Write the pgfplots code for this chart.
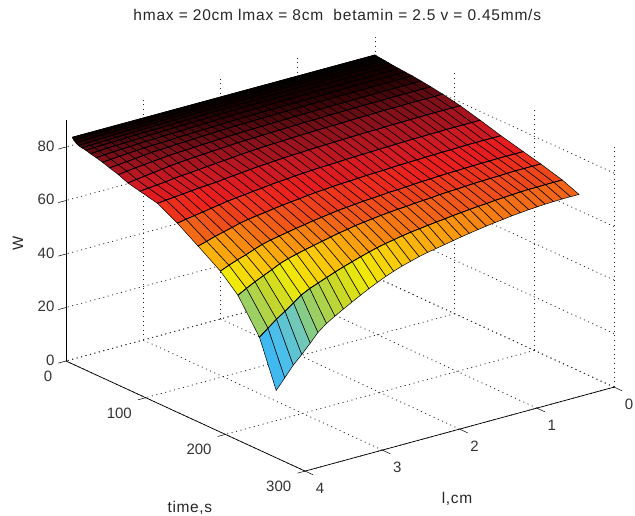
\documentclass[border=0pt]{standalone}
\usepackage{pgfplots}
\usepackage{pgfplotstable}
\pgfplotsset{compat=1.18}
\usepackage{fontspec}
\setmainfont{Liberation Sans}
\newfontface\spaced[LetterSpace=5]{Liberation Sans}
\newfontface\spacedl[LetterSpace=4]{Liberation Sans}
\pgfplotstableread{
l t w
0 0 83
.11 0 83
.22 0 83
.33 0 83
.44 0 83
.54 0 83
.65 0 83
.76 0 83
.87 0 83
.98 0 83
1.09 0 83
1.2 0 83
1.31 0 83
1.42 0 83
1.52 0 83
1.63 0 83
1.74 0 83
1.85 0 83
1.96 0 83
2.07 0 83
2.18 0 83
2.29 0 83
2.4 0 83
2.5 0 83
2.61 0 83
2.72 0 83
2.83 0 83
2.94 0 83
3.05 0 83
3.16 0 83
3.27 0 83
3.38 0 83
3.48 0 83
3.59 0 83
3.7 0 83
3.81 0 83
3.92 0 83
0 2 82.9
.11 2 82.9
.22 2 82.9
.33 2 82.9
.44 2 82.9
.54 2 82.9
.65 2 82.9
.76 2 82.9
.87 2 82.9
.98 2 82.9
1.09 2 82.9
1.2 2 82.9
1.31 2 82.8
1.42 2 82.8
1.52 2 82.8
1.63 2 82.8
1.74 2 82.8
1.85 2 82.8
1.96 2 82.8
2.07 2 82.8
2.18 2 82.7
2.29 2 82.7
2.4 2 82.7
2.5 2 82.7
2.61 2 82.6
2.72 2 82.6
2.83 2 82.6
2.94 2 82.5
3.05 2 82.5
3.16 2 82.5
3.27 2 82.5
3.38 2 82.5
3.48 2 82.5
3.59 2 82.4
3.7 2 82.4
3.81 2 82.3
3.92 2 82.2
0 5 82.8
.11 5 82.8
.22 5 82.8
.33 5 82.8
.44 5 82.8
.54 5 82.8
.65 5 82.8
.76 5 82.8
.87 5 82.8
.98 5 82.7
1.09 5 82.7
1.2 5 82.7
1.31 5 82.7
1.42 5 82.7
1.52 5 82.6
1.63 5 82.6
1.74 5 82.6
1.85 5 82.6
1.96 5 82.5
2.07 5 82.5
2.18 5 82.5
2.29 5 82.4
2.4 5 82.4
2.5 5 82.3
2.61 5 82.3
2.72 5 82.2
2.83 5 82.2
2.94 5 82.1
3.05 5 82.1
3.16 5 82.1
3.27 5 82.1
3.38 5 82
3.48 5 82
3.59 5 81.9
3.7 5 81.8
3.81 5 81.7
3.92 5 81.5
0 8 82.7
.11 8 82.7
.22 8 82.7
.33 8 82.7
.44 8 82.7
.54 8 82.7
.65 8 82.7
.76 8 82.6
.87 8 82.6
.98 8 82.6
1.09 8 82.6
1.2 8 82.6
1.31 8 82.5
1.42 8 82.5
1.52 8 82.5
1.63 8 82.5
1.74 8 82.4
1.85 8 82.4
1.96 8 82.3
2.07 8 82.3
2.18 8 82.3
2.29 8 82.2
2.4 8 82.1
2.5 8 82.1
2.61 8 82
2.72 8 81.9
2.83 8 81.8
2.94 8 81.8
3.05 8 81.7
3.16 8 81.7
3.27 8 81.6
3.38 8 81.5
3.48 8 81.4
3.59 8 81.3
3.7 8 81.2
3.81 8 81.1
3.92 8 81
0 12 82.6
.11 12 82.6
.22 12 82.6
.33 12 82.6
.44 12 82.6
.54 12 82.6
.65 12 82.6
.76 12 82.5
.87 12 82.5
.98 12 82.5
1.09 12 82.5
1.2 12 82.4
1.31 12 82.4
1.42 12 82.4
1.52 12 82.3
1.63 12 82.3
1.74 12 82.3
1.85 12 82.2
1.96 12 82.2
2.07 12 82.1
2.18 12 82.1
2.29 12 82
2.4 12 82
2.5 12 81.9
2.61 12 81.8
2.72 12 81.7
2.83 12 81.6
2.94 12 81.5
3.05 12 81.4
3.16 12 81.4
3.27 12 81.3
3.38 12 81.2
3.48 12 81.1
3.59 12 81
3.7 12 80.9
3.81 12 80.8
3.92 12 80.7
0 17 82.4
.11 17 82.4
.22 17 82.4
.33 17 82.4
.44 17 82.4
.54 17 82.4
.65 17 82.4
.76 17 82.3
.87 17 82.3
.98 17 82.3
1.09 17 82.3
1.2 17 82.2
1.31 17 82.2
1.42 17 82.2
1.52 17 82.1
1.63 17 82.1
1.74 17 82.1
1.85 17 82
1.96 17 82
2.07 17 81.9
2.18 17 81.9
2.29 17 81.8
2.4 17 81.7
2.5 17 81.6
2.61 17 81.6
2.72 17 81.5
2.83 17 81.4
2.94 17 81.3
3.05 17 81.2
3.16 17 81.2
3.27 17 81.1
3.38 17 81
3.48 17 80.9
3.59 17 80.8
3.7 17 80.7
3.81 17 80.6
3.92 17 80.5
0 23 82.2
.11 23 82.2
.22 23 82.2
.33 23 82.2
.44 23 82.2
.54 23 82.2
.65 23 82.2
.76 23 82.1
.87 23 82.1
.98 23 82.1
1.09 23 82.1
1.2 23 82
1.31 23 82
1.42 23 82
1.52 23 81.9
1.63 23 81.9
1.74 23 81.9
1.85 23 81.8
1.96 23 81.8
2.07 23 81.7
2.18 23 81.7
2.29 23 81.6
2.4 23 81.5
2.5 23 81.4
2.61 23 81.4
2.72 23 81.3
2.83 23 81.2
2.94 23 81.1
3.05 23 81
3.16 23 80.9
3.27 23 80.8
3.38 23 80.7
3.48 23 80.6
3.59 23 80.5
3.7 23 80.4
3.81 23 80.2
3.92 23 80
0 30 82
.11 30 82
.22 30 82
.33 30 82
.44 30 82
.54 30 82
.65 30 82
.76 30 81.9
.87 30 81.9
.98 30 81.9
1.09 30 81.9
1.2 30 81.8
1.31 30 81.8
1.42 30 81.8
1.52 30 81.7
1.63 30 81.7
1.74 30 81.6
1.85 30 81.6
1.96 30 81.6
2.07 30 81.5
2.18 30 81.4
2.29 30 81.4
2.4 30 81.3
2.5 30 81.2
2.61 30 81.1
2.72 30 81
2.83 30 80.9
2.94 30 80.8
3.05 30 80.7
3.16 30 80.6
3.27 30 80.5
3.38 30 80.4
3.48 30 80.2
3.59 30 80.1
3.7 30 79.9
3.81 30 79.7
3.92 30 79.5
0 38 81.8
.11 38 81.8
.22 38 81.8
.33 38 81.8
.44 38 81.8
.54 38 81.8
.65 38 81.8
.76 38 81.7
.87 38 81.7
.98 38 81.7
1.09 38 81.6
1.2 38 81.6
1.31 38 81.6
1.42 38 81.5
1.52 38 81.5
1.63 38 81.5
1.74 38 81.4
1.85 38 81.4
1.96 38 81.3
2.07 38 81.3
2.18 38 81.2
2.29 38 81.1
2.4 38 81
2.5 38 80.9
2.61 38 80.8
2.72 38 80.7
2.83 38 80.6
2.94 38 80.5
3.05 38 80.3
3.16 38 80.2
3.27 38 80.1
3.38 38 80
3.48 38 79.8
3.59 38 79.6
3.7 38 79.4
3.81 38 79.1
3.92 38 78.9
0 47 81.6
.11 47 81.6
.22 47 81.6
.33 47 81.6
.44 47 81.6
.54 47 81.6
.65 47 81.5
.76 47 81.5
.87 47 81.5
.98 47 81.5
1.09 47 81.4
1.2 47 81.4
1.31 47 81.4
1.42 47 81.3
1.52 47 81.3
1.63 47 81.2
1.74 47 81.2
1.85 47 81.1
1.96 47 81.1
2.07 47 81
2.18 47 80.9
2.29 47 80.9
2.4 47 80.8
2.5 47 80.7
2.61 47 80.5
2.72 47 80.4
2.83 47 80.3
2.94 47 80.1
3.05 47 80
3.16 47 79.8
3.27 47 79.7
3.38 47 79.5
3.48 47 79.2
3.59 47 78.9
3.7 47 78.6
3.81 47 78.3
3.92 47 78
0 58 81.2
.11 58 81.2
.22 58 81.2
.33 58 81.2
.44 58 81.2
.54 58 81.2
.65 58 81.1
.76 58 81.1
.87 58 81.1
.98 58 81
1.09 58 81
1.2 58 81
1.31 58 80.9
1.42 58 80.9
1.52 58 80.8
1.63 58 80.8
1.74 58 80.7
1.85 58 80.6
1.96 58 80.6
2.07 58 80.5
2.18 58 80.4
2.29 58 80.3
2.4 58 80.2
2.5 58 80.1
2.61 58 80
2.72 58 79.8
2.83 58 79.7
2.94 58 79.5
3.05 58 79.3
3.16 58 79.2
3.27 58 79
3.38 58 78.7
3.48 58 78.4
3.59 58 78.1
3.7 58 77.8
3.81 58 77.4
3.92 58 77
0 70 80.7
.11 70 80.7
.22 70 80.7
.33 70 80.7
.44 70 80.7
.54 70 80.7
.65 70 80.6
.76 70 80.6
.87 70 80.6
.98 70 80.5
1.09 70 80.5
1.2 70 80.4
1.31 70 80.4
1.42 70 80.3
1.52 70 80.2
1.63 70 80.2
1.74 70 80.1
1.85 70 80
1.96 70 79.9
2.07 70 79.8
2.18 70 79.7
2.29 70 79.6
2.4 70 79.5
2.5 70 79.4
2.61 70 79.2
2.72 70 79
2.83 70 78.8
2.94 70 78.6
3.05 70 78.4
3.16 70 78.2
3.27 70 77.9
3.38 70 77.6
3.48 70 77.2
3.59 70 76.8
3.7 70 76.4
3.81 70 76
3.92 70 75.5
0 85 80
.11 85 80
.22 85 80
.33 85 80
.44 85 80
.54 85 79.9
.65 85 79.9
.76 85 79.9
.87 85 79.8
.98 85 79.7
1.09 85 79.7
1.2 85 79.6
1.31 85 79.5
1.42 85 79.4
1.52 85 79.4
1.63 85 79.3
1.74 85 79.2
1.85 85 79.1
1.96 85 79
2.07 85 78.8
2.18 85 78.7
2.29 85 78.6
2.4 85 78.4
2.5 85 78.2
2.61 85 78
2.72 85 77.7
2.83 85 77.4
2.94 85 77.2
3.05 85 76.9
3.16 85 76.6
3.27 85 76.3
3.38 85 76.1
3.48 85 75.8
3.59 85 75.4
3.7 85 75.1
3.81 85 74.8
3.92 85 74.5
0 107 78.7
.11 107 78.7
.22 107 78.7
.33 107 78.7
.44 107 78.7
.54 107 78.6
.65 107 78.6
.76 107 78.5
.87 107 78.5
.98 107 78.4
1.09 107 78.3
1.2 107 78.3
1.31 107 78.2
1.42 107 78.1
1.52 107 78
1.63 107 77.9
1.74 107 77.8
1.85 107 77.7
1.96 107 77.6
2.07 107 77.4
2.18 107 77.3
2.29 107 77.1
2.4 107 76.9
2.5 107 76.7
2.61 107 76.5
2.72 107 76.2
2.83 107 75.9
2.94 107 75.6
3.05 107 75.3
3.16 107 74.9
3.27 107 74.7
3.38 107 74.5
3.48 107 74.2
3.59 107 73.9
3.7 107 73.6
3.81 107 73.3
3.92 107 73
0 132 76.7
.11 132 76.7
.22 132 76.7
.33 132 76.7
.44 132 76.7
.54 132 76.6
.65 132 76.6
.76 132 76.5
.87 132 76.5
.98 132 76.4
1.09 132 76.3
1.2 132 76.2
1.31 132 76.1
1.42 132 76
1.52 132 75.9
1.63 132 75.8
1.74 132 75.7
1.85 132 75.5
1.96 132 75.4
2.07 132 75.3
2.18 132 75.1
2.29 132 74.9
2.4 132 74.7
2.5 132 74.4
2.61 132 74.2
2.72 132 73.9
2.83 132 73.5
2.94 132 73.2
3.05 132 72.8
3.16 132 72.5
3.27 132 72.1
3.38 132 71.6
3.48 132 71.1
3.59 132 70.6
3.7 132 70.1
3.81 132 69.6
3.92 132 69
0 158 74.5
.11 158 74.5
.22 158 74.5
.33 158 74.5
.44 158 74.5
.54 158 74.4
.65 158 74.3
.76 158 74.3
.87 158 74.2
.98 158 74.1
1.09 158 74
1.2 158 73.9
1.31 158 73.8
1.42 158 73.7
1.52 158 73.5
1.63 158 73.4
1.74 158 73.3
1.85 158 73.1
1.96 158 72.9
2.07 158 72.8
2.18 158 72.6
2.29 158 72.3
2.4 158 72.1
2.5 158 71.8
2.61 158 71.4
2.72 158 71.1
2.83 158 70.7
2.94 158 70.3
3.05 158 69.8
3.16 158 69.4
3.27 158 68.9
3.38 158 68.3
3.48 158 67.5
3.59 158 66.7
3.7 158 65.9
3.81 158 64.9
3.92 158 64
0 186 72.4
.11 186 72.4
.22 186 72.4
.33 186 72.4
.44 186 72.3
.54 186 72.3
.65 186 72.2
.76 186 72.1
.87 186 72
.98 186 71.9
1.09 186 71.8
1.2 186 71.6
1.31 186 71.5
1.42 186 71.3
1.52 186 71.1
1.63 186 70.9
1.74 186 70.8
1.85 186 70.5
1.96 186 70.3
2.07 186 70.1
2.18 186 69.8
2.29 186 69.5
2.4 186 69.2
2.5 186 68.8
2.61 186 68.3
2.72 186 67.9
2.83 186 67.3
2.94 186 66.8
3.05 186 66.2
3.16 186 65.6
3.27 186 65
3.38 186 64.2
3.48 186 63.2
3.59 186 62
3.7 186 61
3.81 186 59.8
3.92 186 58.5
0 208 70.8
.11 208 70.8
.22 208 70.8
.33 208 70.8
.44 208 70.7
.54 208 70.6
.65 208 70.5
.76 208 70.4
.87 208 70.3
.98 208 70.1
1.09 208 69.9
1.2 208 69.8
1.31 208 69.6
1.42 208 69.3
1.52 208 69.1
1.63 208 68.9
1.74 208 68.6
1.85 208 68.4
1.96 208 68.1
2.07 208 67.8
2.18 208 67.4
2.29 208 67
2.4 208 66.6
2.5 208 66
2.61 208 65.5
2.72 208 64.8
2.83 208 64.1
2.94 208 63.4
3.05 208 62.7
3.16 208 61.9
3.27 208 61.1
3.38 208 60
3.48 208 58.6
3.59 208 57.2
3.7 208 55.8
3.81 208 54.2
3.92 208 52.5
0 235 68.5
.11 235 68.5
.22 235 68.5
.33 235 68.4
.44 235 68.4
.54 235 68.3
.65 235 68.1
.76 235 67.9
.87 235 67.7
.98 235 67.4
1.09 235 67.2
1.2 235 66.9
1.31 235 66.6
1.42 235 66.3
1.52 235 65.9
1.63 235 65.6
1.74 235 65.2
1.85 235 64.8
1.96 235 64.4
2.07 235 63.9
2.18 235 63.3
2.29 235 62.7
2.4 235 62
2.5 235 61.2
2.61 235 60.3
2.72 235 59.3
2.83 235 58.3
2.94 235 57.2
3.05 235 56
3.16 235 54.8
3.27 235 53.6
3.38 235 52
3.48 235 49.9
3.59 235 47.6
3.7 235 45.5
3.81 235 43
3.92 235 40.5
0 256 66
.11 256 66
.22 256 66
.33 256 65.9
.44 256 65.8
.54 256 65.6
.65 256 65.4
.76 256 65.1
.87 256 64.8
.98 256 64.4
1.09 256 64
1.2 256 63.6
1.31 256 63.1
1.42 256 62.6
1.52 256 62.1
1.63 256 61.5
1.74 256 60.9
1.85 256 60.3
1.96 256 59.7
2.07 256 59
2.18 256 58.1
2.29 256 57.2
2.4 256 56.1
2.5 256 55
2.61 256 53.6
2.72 256 52.1
2.83 256 50.5
2.94 256 48.8
3.05 256 47.1
3.16 256 45.3
3.27 256 43.4
3.38 256 40.9
3.48 256 37.7
3.59 256 34.3
3.7 256 31.2
3.81 256 27.3
3.92 256 23.5
}\surfdata
\begin{document}
\begin{tikzpicture}[x=1pt,y=1pt]
\path[use as bounding box] (0,0) rectangle (635,516);
\begin{axis}[
  at={(375pt,239pt)},anchor=origin,
  x={(-77.25pt,-21pt)},y={(0.797pt,-0.367pt)},z={(0pt,2.675pt)},
  xmin=0,xmax=4,ymin=0,ymax=300,zmin=0,zmax=90,
  xtick={0,1,2,3,4},ytick={0,100,200,300},ztick={0,20,40,60,80},
  tick pos=lower,
  grid=major,
  grid style={black!85,dash pattern=on 1pt off 3.6pt,line width=0.8pt},
  axis line style={draw=none},
  clip=false,
  tick style={draw=none},
  tick align=outside,
  major tick length=5pt,
  /pgf/number format/assume math mode=true,
  tick label style={font=\fontsize{15}{17}\selectfont,text=black!80},
  xticklabel style={anchor=center,xshift=10.5pt,yshift=-15.5pt},
  yticklabel style={anchor=east,xshift=-5.5pt,yshift=-14pt},
  zticklabel style={anchor=east,xshift=-3.5pt,yshift=-1pt},
  title={hmax = 20cm lmax = 8cm\ \ betamin = 2.5 v = 0.45mm/s},
  title style={at={(axis description cs:0.495,1.034)},anchor=center,font=\fontsize{15.5}{17}\spaced,text=black!85},
  xlabel={l,cm},ylabel={time,s},zlabel={W},
  xlabel style={at={(axis description cs:0.7135,-0.064)},anchor=center,font=\fontsize{15.5}{17}\spacedl,text=black!85},
  ylabel style={at={(axis description cs:0.226,-0.085)},anchor=center,font=\fontsize{15.5}{17}\spacedl,text=black!85},
  zlabel style={at={(axis description cs:-0.0876,0.524)},anchor=center,rotate=0,font=\fontsize{15}{17}\selectfont,text=black!85},
  colormap={m}{rgb255(0pt)=(40,165,240);rgb255(217pt)=(70,190,240);rgb255(317pt)=(110,200,190);rgb255(383pt)=(140,205,120);rgb255(483pt)=(200,215,40);rgb255(550pt)=(240,235,10);rgb255(617pt)=(250,200,10);rgb255(683pt)=(250,150,15);rgb255(750pt)=(240,90,25);rgb255(833pt)=(235,30,30);rgb255(883pt)=(200,25,35);rgb255(933pt)=(140,18,28);rgb255(960pt)=(85,10,15);rgb255(980pt)=(30,0,0);rgb255(1000pt)=(5,0,0)},
  point meta min=23,point meta max=83,
]
\addplot3[surf,shader=faceted,faceted color=black,line width=0.5pt,mesh/rows=20,mesh/ordering=x varies,z buffer=default] table[x=l,y=t,z=w] {\surfdata};
\pgfplotsinvokeforeach{-1:1,1:3,4:6,7:9,11:13,16:18,22:24,29:31,37:39,46:48,57:59,69:71,84:86,106:108,131:133,157:159,185:187,207:209,234:236}{
  \addplot3[black,line width=0.7pt,no markers,forget plot,restrict y to domain=#1] table[x=l,y=t,z=w] {\surfdata};
}
\draw[black,line width=0.7pt] (axis cs:4,0,0)--(axis cs:4,0,90);
\draw[black,line width=0.7pt] (axis cs:4,0,0)--(axis cs:4,300,0);
\draw[black,line width=0.7pt] (axis cs:4,300,0)--(axis cs:0,300,0);
\draw[black,line width=0.5pt] (axis cs:4,0,0)--(axis cs:4.1,0,0);
\draw[black,line width=0.5pt] (axis cs:4,0,20)--(axis cs:4.1,0,20);
\draw[black,line width=0.5pt] (axis cs:4,0,40)--(axis cs:4.1,0,40);
\draw[black,line width=0.5pt] (axis cs:4,0,60)--(axis cs:4.1,0,60);
\draw[black,line width=0.5pt] (axis cs:4,0,80)--(axis cs:4.1,0,80);
\draw[black,line width=0.5pt] (axis cs:4,100,0)--(axis cs:4.1,100,0);
\draw[black,line width=0.5pt] (axis cs:4,200,0)--(axis cs:4.1,200,0);
\draw[black,line width=0.5pt] (axis cs:4,300,0)--(axis cs:4.1,300,0);
\draw[black,line width=0.5pt] (axis cs:0,300,0)--(axis cs:0,310,0);
\draw[black,line width=0.5pt] (axis cs:1,300,0)--(axis cs:1,310,0);
\draw[black,line width=0.5pt] (axis cs:2,300,0)--(axis cs:2,310,0);
\draw[black,line width=0.5pt] (axis cs:3,300,0)--(axis cs:3,310,0);
\draw[black,line width=0.5pt] (axis cs:4,300,0)--(axis cs:4,310,0);
\end{axis}
\end{tikzpicture}
\end{document}
